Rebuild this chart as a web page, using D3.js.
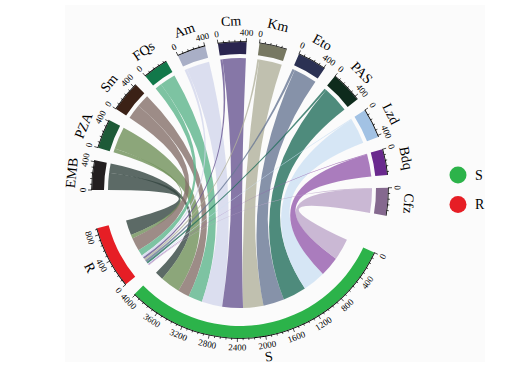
<!DOCTYPE html>
<html>
<head>
<meta charset="utf-8">
<script src="https://cdn.jsdelivr.net/npm/d3@7"></script>
<style>
  body { margin: 0; background: #fff; }
  svg { display: block; font-family: "Liberation Serif", "Times New Roman", serif; }
</style>
</head>
<body>
<div id="chart"></div>
<script>
// drug -> outcome counts
var drugs = ["EMB", "PZA", "Sm", "FQs", "Am", "Cm", "Km", "Eto", "PAS", "Lzd", "Bdq", "Cfz"];
var toS = [150, 357, 205, 254, 368, 370, 365, 375, 420, 410, 355, 385];
var toR = [272, 63, 236, 107, 40, 35, 30, 40, 35, 15, 12, 10];
var outcomes = ["S", "R"];
var outcomeColors = ["#2cb34a", "#e61e25"];
var drugColors = ["#231f20", "#1e5a37", "#3b2116", "#11784a", "#a9afc6", "#2a254f",
                  "#777862", "#2b3153", "#0e2b1c", "#a2c2e4", "#6a2a8e", "#85698f"];
var linkColors = ["#5d6b67", "#8da77b", "#9e8d88", "#7ec4a3", "#dcdff0", "#8778a8",
                  "#c1c1b0", "#8793aa", "#4f8c7d", "#d7e7f6", "#ab7dbe", "#cbb9d5"];
var majorStep = 400, minorStep = 80;

var width = 512, height = 368,
    cx = 240, cy = 190,
    rOut = 148, rIn = 136, rSrc = 132, rTgt = 118,
    toRad = Math.PI / 180,
    gapSmall = 5 * toRad, gapBig = 15 * toRad,
    startAngle = 115 * toRad,
    linkAlpha = 0.8;

var svg = d3.select("#chart").append("svg")
    .attr("width", width)
    .attr("height", height);

// faint figure background
svg.append("rect")
    .attr("x", 65).attr("y", 5)
    .attr("width", 420).attr("height", 357)
    .attr("fill", "#fbfbfb");

var g = svg.append("g")
    .attr("transform", "translate(" + cx + "," + cy + ")");

var totS = d3.sum(toS), totR = d3.sum(toR);
var drugTot = drugs.map(function(d, i) { return toS[i] + toR[i]; });
var grand = totS + totR + d3.sum(drugTot);

// units -> radians
var k = d3.scaleLinear()
    .domain([0, grand])
    .range([0, 2 * Math.PI - 2 * gapBig - 12 * gapSmall]);

// sectors clockwise: S, R, then the drugs
var sectors = [];
var a = startAngle;
sectors.push({name: "S", value: totS, color: outcomeColors[0], start: a, end: a + k(totS)});
a = sectors[0].end + gapSmall;
sectors.push({name: "R", value: totR, color: outcomeColors[1], start: a, end: a + k(totR)});
a = sectors[1].end + gapBig;
drugs.forEach(function(d, i) {
    sectors.push({name: d, value: drugTot[i], color: drugColors[i], start: a, end: a + k(drugTot[i])});
    a = a + k(drugTot[i]) + gapSmall;
});

// links: in each drug sector R comes first, then S; targets are filled in reverse drug order
var links = [];
drugs.forEach(function(d, i) {
    var s = sectors[i + 2];
    var offS = d3.sum(toS.slice(i + 1)), offR = d3.sum(toR.slice(i + 1));
    var sS = sectors[0], sR = sectors[1];
    links.push({
        color: linkColors[i],
        source: {startAngle: s.start, endAngle: s.start + k(toR[i])},
        target: {startAngle: sR.start + k(offR), endAngle: sR.start + k(offR + toR[i])}
    });
    links.push({
        color: linkColors[i],
        source: {startAngle: s.start + k(toR[i]), endAngle: s.end},
        target: {startAngle: sS.start + k(offS), endAngle: sS.start + k(offS + toS[i])}
    });
});

// colour that shows as c on white once drawn with alpha
function baseColor(c) {
    var o = d3.rgb(c);
    function f(v) { return Math.max(0, Math.min(255, (v - (1 - linkAlpha) * 255) / linkAlpha)); }
    return d3.rgb(f(o.r), f(o.g), f(o.b)).formatHex();
}

var ribbon = d3.ribbon().sourceRadius(rSrc).targetRadius(rTgt);

g.append("g")
  .selectAll("path")
    .data(links)
    .enter()
    .append("path")
    .attr("d", ribbon)
    .attr("fill", function(d) { return baseColor(d.color); })
    .attr("fill-opacity", linkAlpha);

var arc = d3.arc().innerRadius(rIn).outerRadius(rOut)
    .startAngle(function(d) { return d.start; })
    .endAngle(function(d) { return d.end; });

g.append("g")
  .selectAll("path")
    .data(sectors)
    .enter()
    .append("path")
    .attr("d", arc)
    .attr("fill", function(d) { return d.color; });

// axis line along the top of each band
var axisArc = d3.arc().innerRadius(rOut).outerRadius(rOut + 0.8)
    .startAngle(function(d) { return d.start; })
    .endAngle(function(d) { return d.end; });

g.append("g")
  .selectAll("path")
    .data(sectors)
    .enter()
    .append("path")
    .attr("d", axisArc)
    .attr("fill", "#000");

function pt(ang, r) { return [r * Math.sin(ang), -r * Math.cos(ang)]; }

function textTransform(ang, r) {
    var p = pt(ang, r);
    var deg = ang / toRad % 360;
    var rot = (deg > 100 && deg < 260) ? deg - 180 : deg;
    return "translate(" + p[0] + "," + p[1] + ") rotate(" + rot + ")";
}

var ticks = [];
sectors.forEach(function(s) {
    d3.range(0, s.value + 0.001, minorStep).forEach(function(v) {
        ticks.push({ang: s.start + k(v), value: v, major: v % majorStep === 0});
    });
});

g.append("g")
  .selectAll("line")
    .data(ticks)
    .enter()
    .append("line")
    .attr("x1", function(d) { return pt(d.ang, rOut)[0]; })
    .attr("y1", function(d) { return pt(d.ang, rOut)[1]; })
    .attr("x2", function(d) { return pt(d.ang, rOut + (d.major ? 4 : 2.2))[0]; })
    .attr("y2", function(d) { return pt(d.ang, rOut + (d.major ? 4 : 2.2))[1]; })
    .attr("stroke", "#000")
    .attr("stroke-width", 0.7);

g.append("g")
  .selectAll("text")
    .data(ticks.filter(function(d) { return d.major; }))
    .enter()
    .append("text")
    .attr("transform", function(d) { return textTransform(d.ang, rOut + 9.5); })
    .attr("text-anchor", "middle")
    .attr("dominant-baseline", "central")
    .style("font-size", "9px")
    .text(function(d) { return d.value; });

g.append("g")
  .selectAll("text")
    .data(sectors)
    .enter()
    .append("text")
    .attr("transform", function(d) { return textTransform((d.start + d.end) / 2, 169); })
    .attr("text-anchor", "middle")
    .attr("dominant-baseline", "central")
    .style("font-size", "14px")
    .text(function(d) { return d.name; });

// legend
var legend = svg.append("g")
    .selectAll("g")
    .data(outcomes)
    .enter()
    .append("g")
    .attr("transform", function(d, i) { return "translate(458," + (175 + i * 29.5) + ")"; });

legend.append("circle")
    .attr("r", 8.5)
    .attr("fill", function(d, i) { return outcomeColors[i]; });

legend.append("text")
    .attr("x", 17)
    .attr("dominant-baseline", "central")
    .style("font-size", "14px")
    .text(function(d) { return d; });
</script>
</body>
</html>
